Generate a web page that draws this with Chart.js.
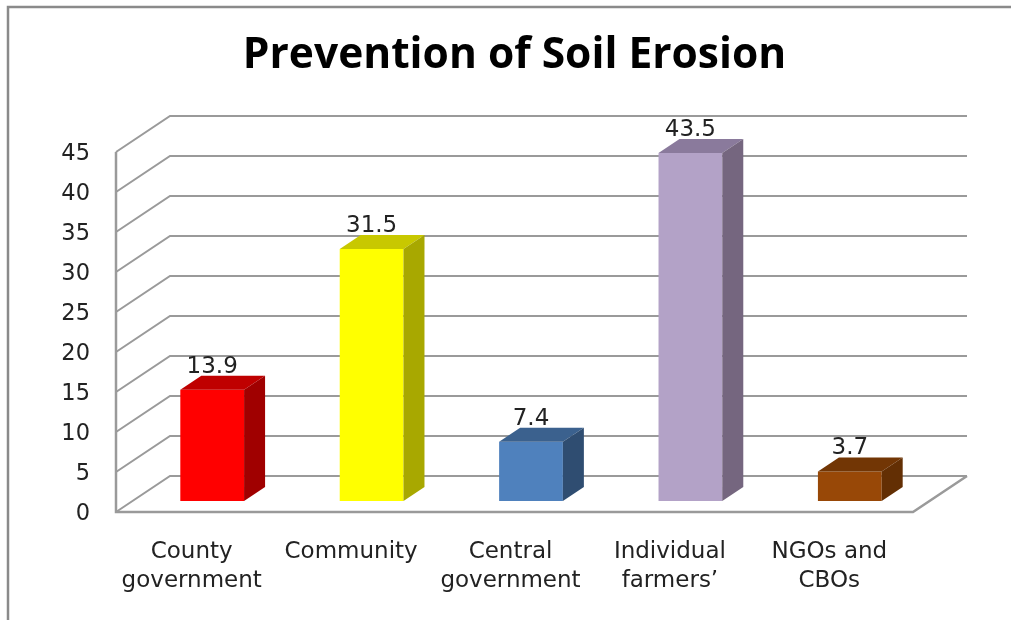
<!DOCTYPE html>
<html>
<head>
<meta charset="utf-8">
<title>Prevention of Soil Erosion</title>
<script src="https://cdn.jsdelivr.net/npm/chart.js@4/dist/chart.umd.js"></script>
<style>
  body { margin: 0; background: #fff; }
  canvas { display: block; }
</style>
</head>
<body>
<canvas id="myChart" width="1011" height="620"></canvas>
<script>
var categories = [["County", "government"], "Community", ["Central", "government"], ["Individual", "farmers’"], ["NGOs and", "CBOs"]];
var values = [13.9, 31.5, 7.4, 43.5, 3.7];
var frontColors = ["#ff0000", "#ffff00", "#4f81bd", "#b3a2c7", "#984807"];
var topColors = ["#bf0000", "#c8c800", "#3b618e", "#8a7a9c", "#723605"];
var sideColors = ["#a00000", "#a8a800", "#2f4d71", "#75667f", "#632f04"];

var textFont = '"DejaVu Sans", sans-serif';
var lineColor = "#9a9a9a";

// depth of the floor and side wall, and how far in and how deep the bars sit
var wallDx = 54, wallDy = 36;
var barShiftX = 16.5, barShiftY = 11;
var barDx = 21, barDy = 14;

function line(ctx, points) {
    ctx.beginPath();
    points.forEach(function(p, i) {
        if (i == 0) ctx.moveTo(p[0], p[1]);
        else ctx.lineTo(p[0], p[1]);
    });
    ctx.stroke();
}

function fillPoly(ctx, points, color) {
    ctx.fillStyle = color;
    ctx.beginPath();
    points.forEach(function(p, i) {
        if (i == 0) ctx.moveTo(p[0], p[1]);
        else ctx.lineTo(p[0], p[1]);
    });
    ctx.closePath();
    ctx.fill();
}

var box3d = {
    id: "box3d",
    beforeDraw: function(chart) {
        // outer frame, open on the right and at the bottom
        var ctx = chart.ctx;
        ctx.save();
        ctx.strokeStyle = "#8a8a8a";
        ctx.lineWidth = 2.5;
        line(ctx, [[8, 620], [8, 7], [1011, 7]]);
        ctx.restore();
    },
    beforeDatasetsDraw: function(chart) {
        var ctx = chart.ctx;
        var area = chart.chartArea;
        var y = chart.scales.y;
        ctx.save();
        ctx.strokeStyle = lineColor;
        ctx.lineWidth = 2;
        y.ticks.forEach(function(tick) {
            var py = y.getPixelForValue(tick.value);
            line(ctx, [[area.left, py], [area.left + wallDx, py - wallDy], [area.right + wallDx, py - wallDy]]);
        });
        var floor = y.getPixelForValue(0);
        ctx.lineWidth = 2.5;
        line(ctx, [[area.left, y.getPixelForValue(45)], [area.left, floor], [area.right, floor], [area.right + wallDx, floor - wallDy]]);
        ctx.restore();

        // bars stand part way back on the floor
        ctx.save();
        ctx.translate(barShiftX, -barShiftY);
    },
    afterDatasetsDraw: function(chart) {
        var ctx = chart.ctx;
        var bars = chart.getDatasetMeta(0).data;
        bars.forEach(function(bar, i) {
            var l = bar.x - bar.width / 2, r = bar.x + bar.width / 2;
            fillPoly(ctx, [[l, bar.y], [l + barDx, bar.y - barDy], [r + barDx, bar.y - barDy], [r, bar.y]], topColors[i]);
            fillPoly(ctx, [[r, bar.y], [r + barDx, bar.y - barDy], [r + barDx, bar.base - barDy], [r, bar.base]], sideColors[i]);
        });
        ctx.fillStyle = "#222";
        ctx.font = "23px " + textFont;
        ctx.textAlign = "center";
        ctx.textBaseline = "middle";
        bars.forEach(function(bar, i) {
            ctx.fillText(values[i], bar.x, bar.y - 23);
        });
        ctx.restore();
    }
};

var ctx = document.getElementById("myChart").getContext("2d");
var myChart = new Chart(ctx, {
    type: "bar",
    data: {
        labels: categories,
        datasets: [{
            data: values,
            backgroundColor: frontColors,
            barPercentage: 0.4,
            categoryPercentage: 1,
            clip: false
        }]
    },
    plugins: [box3d],
    options: {
        responsive: false,
        animation: false,
        layout: {
            padding: { left: 40, right: 98, top: 0, bottom: 0 }
        },
        plugins: {
            legend: { display: false },
            tooltip: { enabled: false },
            title: {
                display: true,
                text: "Prevention of Soil Erosion",
                fullSize: false,
                color: "#000",
                font: { family: '"Open Sans", sans-serif', size: 42.5, weight: "bold", lineHeight: 1.2 },
                padding: { top: 30, bottom: 71 }
            }
        },
        scales: {
            x: {
                grid: { display: false },
                border: { display: false },
                afterFit: function(scale) { scale.height = 108; },
                ticks: {
                    color: "#222",
                    font: { family: textFont, size: 23, lineHeight: 1.26 },
                    padding: 18,
                    labelOffset: -4,
                    maxRotation: 0
                }
            },
            y: {
                min: 0,
                max: 45,
                grid: { display: false },
                border: { display: false },
                afterFit: function(scale) { scale.width = 76; },
                ticks: {
                    stepSize: 5,
                    color: "#222",
                    font: { family: textFont, size: 22.5 },
                    padding: 18,
                    labelOffset: 2
                }
            }
        }
    }
});
</script>
</body>
</html>
